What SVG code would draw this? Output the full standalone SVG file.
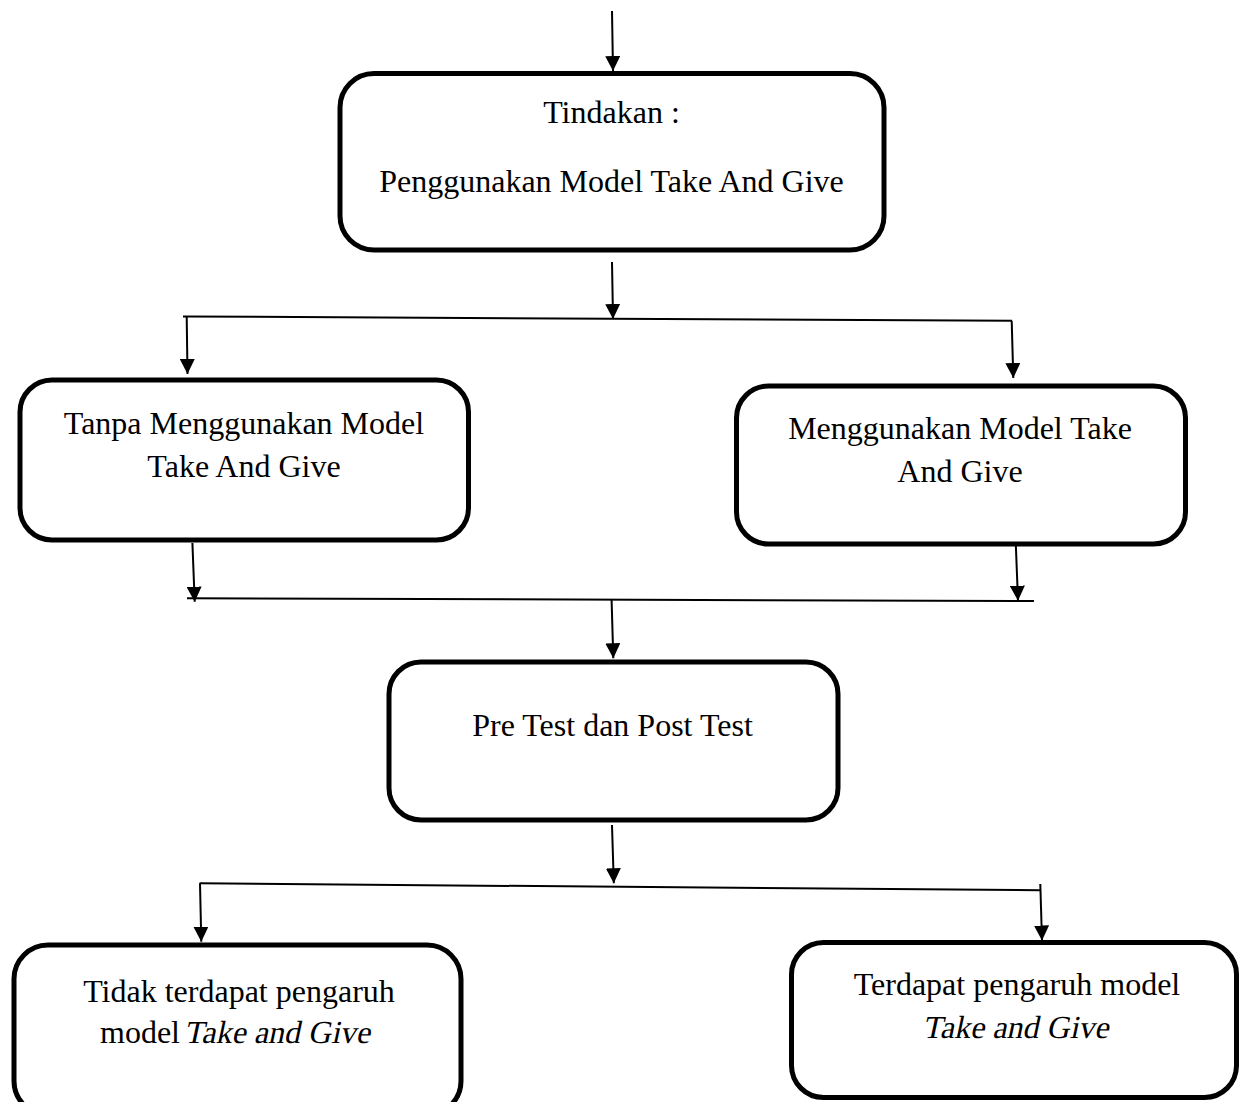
<svg xmlns="http://www.w3.org/2000/svg" width="1241" height="1102" viewBox="0 0 1241 1102">
<style>
.box{fill:#fff;stroke:#000;stroke-width:5}
.t{font-family:"Liberation Serif","Times New Roman",serif;font-size:32px;fill:#000;text-anchor:middle}
.s{text-anchor:start}
.c line{stroke:#000;stroke-width:2;fill:none}
</style>
<defs>
<marker id="a" viewBox="0 0 15 15" refX="15" refY="7.5" markerWidth="15" markerHeight="15" markerUnits="userSpaceOnUse" orient="auto">
<path d="M0,0 L15,7.5 L0,15 Z" fill="#000"/>
</marker>
</defs>
<g id="connectors" class="c">
<line x1="612" y1="11" x2="613" y2="71" marker-end="url(#a)"/>
<line x1="612" y1="262" x2="613" y2="319" marker-end="url(#a)"/>
<line x1="183" y1="316.5" x2="1012" y2="320.7"/>
<line x1="186.7" y1="316.7" x2="187.5" y2="374" marker-end="url(#a)"/>
<line x1="1011.7" y1="320.7" x2="1013.3" y2="378" marker-end="url(#a)"/>
<line x1="192.4" y1="543" x2="194.7" y2="601.7" marker-end="url(#a)"/>
<line x1="1015.7" y1="541.7" x2="1018" y2="600.7" marker-end="url(#a)"/>
<line x1="187" y1="598.3" x2="1034" y2="601"/>
<line x1="611.6" y1="600" x2="613.3" y2="658.3" marker-end="url(#a)"/>
<line x1="612" y1="825" x2="613.8" y2="883.3" marker-end="url(#a)"/>
<line x1="199.6" y1="883.3" x2="1040.3" y2="890.3"/>
<line x1="200" y1="883.3" x2="201.3" y2="941.7" marker-end="url(#a)"/>
<line x1="1040.3" y1="884" x2="1042" y2="940.5" marker-end="url(#a)"/>
</g>
<g id="n1">
<rect class="box" x="340" y="73.5" width="544" height="176.5" rx="34"/>
<text class="t" x="611.5" y="123.3">Tindakan :</text>
<text class="t" x="611.5" y="191.7">Penggunakan Model Take And Give</text>
</g>
<g id="n2">
<rect class="box" x="20" y="380" width="448.5" height="160" rx="32"/>
<text class="t" x="244" y="434.3">Tanpa Menggunakan Model</text>
<text class="t" x="244" y="476.7">Take And Give</text>
</g>
<g id="n3">
<rect class="box" x="736.5" y="386" width="449" height="158" rx="32"/>
<text class="t" x="960" y="439.3">Menggunakan Model Take</text>
<text class="t" x="960" y="481.7">And Give</text>
</g>
<g id="n4">
<rect class="box" x="389" y="662" width="449" height="158" rx="32"/>
<text class="t" x="612.5" y="735.7">Pre Test dan Post Test</text>
</g>
<g id="n5">
<rect class="box" x="14" y="945" width="447" height="170" rx="34"/>
<text class="t" x="239" y="1002">Tidak terdapat pengaruh</text>
<text class="t s" x="100" y="1043">model</text>
<text class="t" transform="translate(277,1043) skewX(-12)" x="0" y="0">Take and Give</text>
</g>
<g id="n6">
<rect class="box" x="791.5" y="942.5" width="445" height="155" rx="32"/>
<text class="t" x="1017" y="995">Terdapat pengaruh model</text>
<text class="t" transform="translate(1015.5,1038) skewX(-12)" x="0" y="0">Take and Give</text>
</g>
</svg>
